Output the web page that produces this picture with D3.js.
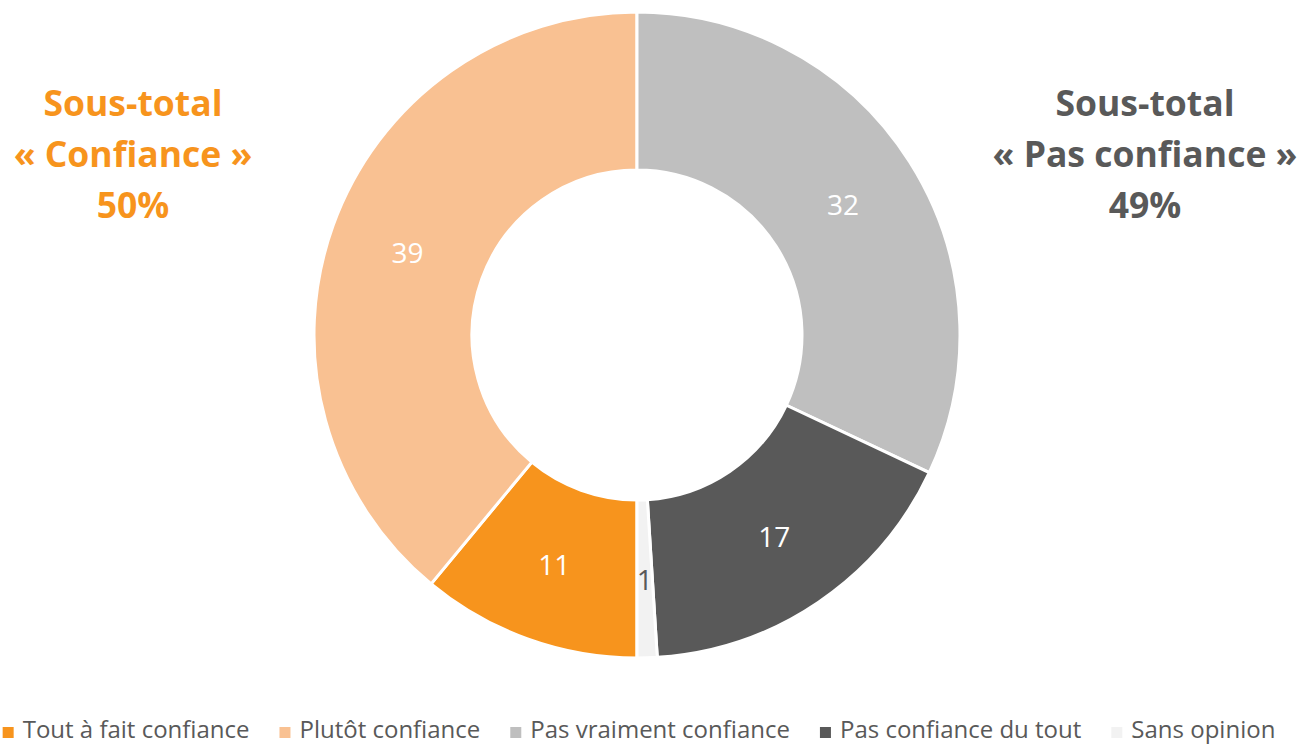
<!DOCTYPE html>
<meta charset="utf-8">
<script src="https://d3js.org/d3.v7.min.js"></script>
<style>
body { margin: 0; background: #fff; }
text { font-family: "Open Sans", "Noto Sans", sans-serif; }
</style>
<div id="chart"></div>
<script>
// data
var categories = ["Tout à fait confiance", "Plutôt confiance", "Pas vraiment confiance", "Pas confiance du tout", "Sans opinion"];
var values = [11, 39, 32, 17, 1];
var colors = ["#F7941D", "#F9C192", "#BFBFBF", "#595959", "#F2F2F2"];
var labelColors = ["#fff", "#fff", "#fff", "#fff", "#595959"];
var subtotalLeft = ["Sous-total", "« Confiance »", "50%"];
var subtotalRight = ["Sous-total", "« Pas confiance »", "49%"];

var width = 1299, height = 744;
var cx = 637, cy = 335, outerR = 323, innerR = 165;

var svg = d3.select("#chart").append("svg")
    .attr("width", width)
    .attr("height", height);

// pie starts at the bottom so the first two slices sit on the left half
var pie = d3.pie()
    .sort(null)
    .value(function(d) { return d; })
    .startAngle(Math.PI)
    .endAngle(3 * Math.PI);

var arc = d3.arc().innerRadius(innerR).outerRadius(outerR);

var g = svg.append("g").attr("transform", "translate(" + cx + "," + cy + ")");

var arcs = pie(values);

g.selectAll("path")
    .data(arcs)
    .enter().append("path")
    .attr("d", arc)
    .attr("fill", function(d, i) { return colors[i]; })
    .attr("stroke", "#fff")
    .attr("stroke-width", 3);

// data labels
g.selectAll(".lbl")
    .data(arcs)
    .enter().append("text")
    .attr("class", "lbl")
    .attr("transform", function(d) { return "translate(" + arc.centroid(d) + ")"; })
    .attr("text-anchor", "middle")
    .attr("dy", "0.38em")
    .attr("font-size", 28)
    .attr("fill", function(d, i) { return labelColors[i]; })
    .text(function(d) { return d.data; });

// subtotals
function subtotal(lines, x, color) {
    svg.append("g").selectAll("text")
        .data(lines)
        .enter().append("text")
        .attr("x", x)
        .attr("y", function(d, i) { return 116 + i * 51; })
        .attr("text-anchor", "middle")
        .attr("font-size", 35.5)
        .attr("font-weight", "bold")
        .attr("fill", color)
        .text(function(d) { return d; });
}
subtotal(subtotalLeft, 133, "#F7941D");
subtotal(subtotalRight, 1145, "#595959");

// legend, laid out from measured text widths and centred
var legend = svg.append("g");
var items = legend.selectAll("g")
    .data(categories)
    .enter().append("g");

items.append("rect")
    .attr("y", 727)
    .attr("width", 11).attr("height", 11)
    .attr("fill", function(d, i) { return colors[i]; });

items.append("text")
    .attr("x", 20)
    .attr("y", 738)
    .attr("font-size", 24)
    .attr("fill", "#595959")
    .text(function(d) { return d; });

var x = 0;
items.each(function() {
    var w = d3.select(this).select("text").node().getComputedTextLength();
    d3.select(this).attr("transform", "translate(" + x + ",0)");
    x += 20 + w + 30;
});
var total = x - 30;
legend.attr("transform", "translate(" + (639 - total / 2) + ",0)");
</script>
